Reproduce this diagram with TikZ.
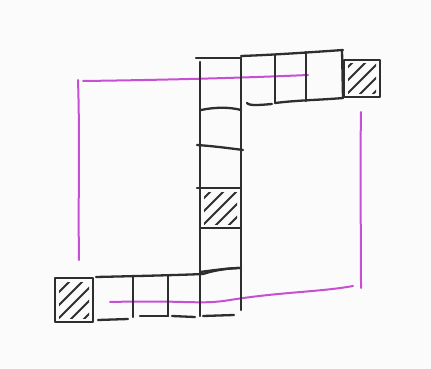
\documentclass[tikz,border=0pt]{standalone}
\definecolor{ink}{HTML}{2E2E2E}
\definecolor{mag}{HTML}{C64FD4}
\definecolor{bg}{HTML}{FBFBFB}
\tikzset{
  pen/.style={draw=ink, line width=2.3pt, line cap=round, line join=round},
  mpen/.style={draw=mag, line width=2pt, line cap=round},
  hatchline/.style={draw=ink, line width=2pt, line cap=round}
}
\newcommand{\hatchcell}[4]{%
  \begin{scope}
    \clip (#1+4,#2+4) rectangle (#3-4,#4-4);
    \foreach \k in {-65,-52,...,65} {
      \draw[hatchline] (#1+\k,#4) -- (#1+\k+60,#4-60);
    }
  \end{scope}
  \draw[pen] (#1,#2) rectangle (#3,#4);
}
\begin{document}
\begin{tikzpicture}[x=1pt,y=-1pt]
  \fill[bg] (0,0) rectangle (431,369);
  \useasboundingbox (0,0) rectangle (431,369);

  % magenta frame
  \draw[mpen] (83,81) .. controls (160,80) and (240,78) .. (308,75);
  \draw[mpen] (78,80) .. controls (80,140) and (78,200) .. (79,260);
  \draw[mpen] (361,112) .. controls (360,170) and (361,230) .. (361,288);
  \draw[mpen] (110,302) .. controls (190,300) and (200,305) .. (230,300)
              .. controls (280,292) and (320,292) .. (353,286);

  % vertical column
  \draw[pen] (200,62) -- (200,316);
  \draw[pen] (241,58) -- (241,310);
  \draw[pen] (196,58) -- (241,58);
  \draw[pen] (201,110) .. controls (215,107) and (230,107) .. (241,110);
  \draw[pen] (197,145) .. controls (212,146) and (228,148) .. (243,150);
  \draw[pen] (197,188) -- (241,188);
  \draw[pen] (200,228) -- (241,228);
  \draw[pen] (200,272) .. controls (215,270) and (230,268) .. (241,268);
  \draw[pen] (203,316) -- (234,315);

  % column hatched cell
  \hatchcell{200}{188}{241}{228}

  % top row
  \draw[pen] (241,56) .. controls (270,55) and (300,53) .. (343,50);
  \draw[pen] (247,103) .. controls (249,106) and (260,105) .. (272,104);
  \draw[pen] (275,103) .. controls (300,100) and (320,100) .. (343,98);
  \draw[pen] (275,55) -- (275,103);
  \draw[pen] (306,52) -- (306,101);
  \draw[pen] (342,50) -- (343,98);
  \hatchcell{344}{60}{380}{97}

  % bottom row
  \draw[pen] (96,277) .. controls (140,276) and (180,275) .. (203,274);
  \draw[pen] (203,274) .. controls (215,270) and (230,268) .. (241,268);
  \draw[pen] (133,276) -- (133,317);
  \draw[pen] (168,275) -- (168,316);
  \draw[pen] (98,320) -- (128,319);
  \draw[pen] (140,316) -- (168,316);
  \draw[pen] (172,316) -- (195,317);
  \hatchcell{55}{278}{93}{322}
\end{tikzpicture}
\end{document}
